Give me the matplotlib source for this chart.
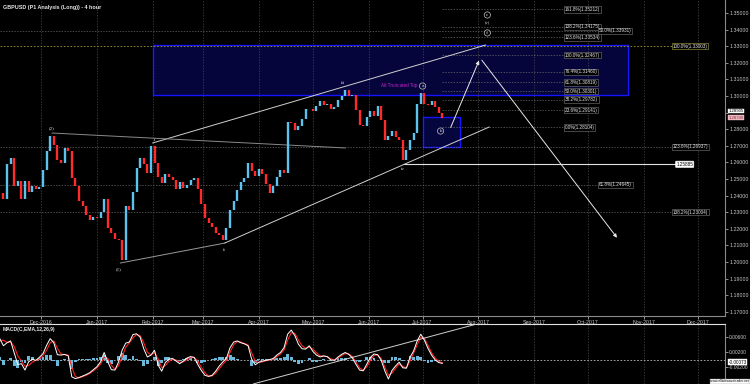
import matplotlib
matplotlib.use('Agg')
import matplotlib.pyplot as plt
import matplotlib.dates as mdates
import matplotlib.transforms as mtransforms
from matplotlib.patches import Rectangle
import numpy as np
import pandas as pd

plt.rcParams['font.family'] = ['Liberation Sans', 'DejaVu Sans']

title = 'GBPUSD (P1 Analysis (Long)) - 4 hour'

# closes every 2 days
dates = pd.date_range('2016-11-08', periods=124, freq='2D')
close = [1.2416, 1.2380, 1.2590, 1.2627, 1.2458, 1.2488, 1.2380, 1.2488, 1.2422, 1.2458,
         1.2440, 1.2452, 1.2554, 1.2669, 1.2759, 1.2705, 1.2614, 1.2596, 1.2687, 1.2669,
         1.2506, 1.2458, 1.2367, 1.2337, 1.2283, 1.2253, 1.2271, 1.2265, 1.2301, 1.2380,
         1.2205, 1.2175, 1.2139, 1.2133, 1.2012, 1.2337, 1.2313, 1.2422, 1.2566, 1.2627,
         1.2590, 1.2536, 1.2699, 1.2596, 1.2512, 1.2476, 1.2530, 1.2512, 1.2494, 1.2440,
         1.2482, 1.2446, 1.2464, 1.2494, 1.2506, 1.2440, 1.2349, 1.2265, 1.2235, 1.2211,
         1.2175, 1.2163, 1.2133, 1.2205, 1.2313, 1.2367, 1.2434, 1.2482, 1.2506, 1.2596,
         1.2548, 1.2518, 1.2560, 1.2530, 1.2470, 1.2416, 1.2458, 1.2512, 1.2554, 1.2536,
         1.2843, 1.2837, 1.2795, 1.2819, 1.2861, 1.2922, 1.2922, 1.2910, 1.2940, 1.2970,
         1.2946, 1.2952, 1.2922, 1.2934, 1.2976, 1.3000, 1.3036, 1.3000, 1.3006, 1.2916,
         1.2825, 1.2819, 1.2874, 1.2910, 1.2880, 1.2940, 1.2855, 1.2735, 1.2759, 1.2789,
         1.2753, 1.2735, 1.2614, 1.2675, 1.2735, 1.2777, 1.2952, 1.3018, 1.2952, 1.2946,
         1.2970, 1.2934, 1.2898, 1.2868]

macd = [0.0056, 0.0037, 0.0045, 0.0050, 0.0018, -0.0013, -0.0011, -0.0028, -0.0006, 0.0001,
        -0.0002, 0.0006, 0.0016, 0.0038, 0.0056, 0.0045, 0.0013, 0.0012, 0.0014, 0.0010,
        -0.0046, -0.0051, -0.0048, -0.0044, -0.0040, -0.0035, -0.0027, -0.0019, -0.0006, 0.0019,
        -0.0006, -0.0027, -0.0028, -0.0006, 0.0025, 0.0044, 0.0047, 0.0067, 0.0069, 0.0060,
        0.0029, 0.0007, 0.0012, 0.0025, -0.0015, -0.0031, -0.0008, 0.0001, 0.0003, -0.0004,
        -0.0011, -0.0004, 0.0004, 0.0008, 0.0006, -0.0013, -0.0029, -0.0042, -0.0045, -0.0042,
        -0.0031, -0.0017, -0.0006, 0.0004, 0.0032, 0.0047, 0.0050, 0.0045, 0.0042, 0.0037,
        0.0001, -0.0014, -0.0007, -0.0004, -0.0002, 0.0000, 0.0003, 0.0012, 0.0019, 0.0032,
        0.0068, 0.0079, 0.0064, 0.0041, 0.0029, 0.0028, 0.0037, 0.0022, 0.0012, 0.0007,
        0.0010, 0.0008, -0.0001, -0.0002, 0.0007, 0.0014, 0.0019, 0.0014, 0.0004, -0.0013,
        -0.0028, -0.0030, -0.0012, 0.0006, 0.0015, 0.0013, -0.0002, -0.0030, -0.0052, -0.0029,
        -0.0017, -0.0007, -0.0022, -0.0023, 0.0006, 0.0023, 0.0050, 0.0068, 0.0052, 0.0030,
        0.0012, -0.0001, -0.0008, -0.0010]

signal = [0.0050, 0.0052, 0.0046, 0.0047, 0.0035, 0.0010, -0.0004, -0.0018, -0.0016, -0.0007,
          -0.0002, 0.0002, 0.0010, 0.0025, 0.0045, 0.0050, 0.0030, 0.0015, 0.0013, 0.0012,
          -0.0020, -0.0045, -0.0049, -0.0046, -0.0042, -0.0037, -0.0030, -0.0022, -0.0012, 0.0006,
          0.0003, -0.0015, -0.0026, -0.0016, 0.0008, 0.0033, 0.0045, 0.0058, 0.0067, 0.0064,
          0.0045, 0.0020, 0.0012, 0.0019, 0.0002, -0.0022, -0.0016, -0.0005, 0.0001, -0.0001,
          -0.0007, -0.0006, 0.0000, 0.0005, 0.0006, -0.0004, -0.0021, -0.0035, -0.0044, -0.0044,
          -0.0036, -0.0024, -0.0012, -0.0002, 0.0020, 0.0040, 0.0048, 0.0047, 0.0043, 0.0039,
          0.0018, -0.0005, -0.0008, -0.0006, -0.0003, -0.0001, 0.0001, 0.0008, 0.0015, 0.0026,
          0.0052, 0.0072, 0.0070, 0.0052, 0.0037, 0.0030, 0.0034, 0.0028, 0.0018, 0.0010,
          0.0009, 0.0008, 0.0002, -0.0001, 0.0004, 0.0011, 0.0016, 0.0015, 0.0008, -0.0007,
          -0.0022, -0.0029, -0.0019, -0.0002, 0.0011, 0.0013, 0.0003, -0.0020, -0.0042, -0.0036,
          -0.0023, -0.0012, -0.0018, -0.0022, -0.0004, 0.0017, 0.0040, 0.0060, 0.0057, 0.0038,
          0.0018, 0.0004, -0.0005, -0.0009]

# fib levels: (label, price, label date)
fib_near = [('161.8%', 1.35212), ('138.2%', 1.34175), ('123.6%', 1.33534), ('100.0%', 1.32467),
            ('76.4%', 1.31460), ('61.8%', 1.30819), ('50.0%', 1.30301), ('38.2%', 1.29782),
            ('23.6%', 1.29141), ('0.0%', 1.28104)]
fib_far = [('50.0%', 1.33931, '2017-10-07'), ('123.6%', 1.26937, '2017-11-17'),
           ('61.8%', 1.24645, '2017-10-07'), ('138.2%', 1.23004, '2017-11-17')]
yellow_level = ('100.0%', 1.33003, '2017-11-17')
hline_level = 1.25885

# trendlines (date, price) pairs
trendlines = [(('2017-02-01', 1.2717), ('2017-08-05', 1.3307), '#d0d0d0'),
              (('2017-03-13', 1.2114), ('2017-08-07', 1.2813), '#d0d0d0'),
              (('2016-12-07', 1.2777), ('2017-05-19', 1.2687), '#8a8a8a'),
              (('2017-01-14', 1.1994), ('2017-03-13', 1.2114), '#9a9a9a')]
macd_trend = (('2017-03-29', -0.0065), ('2017-07-31', 0.0095))

waves = [('(2)', '2016-12-07', 1.2807), ('(1)', '2017-01-13', 1.1958), ('i', '2017-02-02', 1.2735),
         ('ii', '2017-03-13', 1.2072), ('iii', '2017-05-18', 1.3078), ('iv', '2017-06-20', 1.2560)]
circled = [('a', '2017-07-01', 1.3060), ('b', '2017-07-11', 1.2789),
           ('c', '2017-08-06', 1.3488), ('v', '2017-08-06', 1.3380)]

d = mdates.datestr2num
dnum = mdates.date2num(dates.to_pydatetime())

fig = plt.figure(figsize=(7.5, 3.84), dpi=100, facecolor='black')
ax = fig.add_axes([0, 1 - 316 / 384, 725 / 750, 316 / 384], facecolor='black')
axm = fig.add_axes([0, 0, 725 / 750, 60 / 384], facecolor='black')

xlo = d('2016-12-01') - 22.9
xhi = d('2016-12-01') + 380.1
for a in (ax, axm):
    a.set_xlim(xlo, xhi)
    a.xaxis.set_major_locator(mdates.MonthLocator())
    a.grid(axis='x', color='#4a4a4a', ls=(0, (2, 2)), lw=0.5)
    for s in ('left', 'top', 'bottom', 'right'):
        a.spines[s].set_visible(False)
    a.spines['right'].set_visible(True)
    a.spines['right'].set_color('#8a8a8a')
    a.spines['right'].set_linewidth(0.8)
    a.yaxis.tick_right()
    a.tick_params(axis='y', colors='#c8c8c8', labelsize=3.8, length=2, width=0.5, pad=1)


def price_fmt(v, pos):
    # the 1.29 level sits under the live price tag
    if abs(v - 1.29) < 1e-6:
        return ''
    return '%.5f' % v


ax.set_ylim(1.16747, 1.35783)
ax.set_yticks(np.arange(1.17, 1.3501, 0.01))
ax.yaxis.set_major_formatter(matplotlib.ticker.FuncFormatter(price_fmt))
ax.spines['bottom'].set_visible(True)
ax.spines['bottom'].set_color('#8a8a8a')
ax.spines['bottom'].set_linewidth(0.8)
ax.xaxis.set_major_formatter(mdates.DateFormatter('%b-%Y'))
ax.tick_params(axis='x', colors='#c8c8c8', labelsize=3.8, length=2, width=0.5, pad=1)

# blue boxes
ax.add_patch(Rectangle((d('2017-02-01'), 1.3005), d('2017-10-23') - d('2017-02-01'), 1.3307 - 1.3005,
                       fc='#05053c', ec='#1414ff', lw=1.0, zorder=1))
ax.add_patch(Rectangle((d('2017-07-01'), 1.2693), d('2017-07-22') - d('2017-07-01'), 1.2873 - 1.2693,
                       fc='#06063f', ec='#1414ff', lw=1.0, zorder=1))

lbl = dict(fontsize=3.3, color='#e6e6e6', ha='left', va='center', zorder=6)
for name, p in fib_near:
    ax.hlines(p, d('2017-07-12'), d('2017-09-18'), color='#6a6a6a', ls=(0, (2, 2)), lw=0.5, zorder=2)
    ax.text(d('2017-09-18'), p, '%s(%.5f)' % (name, p),
            bbox=dict(boxstyle='square,pad=0.15', fc='black', ec='#7a7a7a', lw=0.4), **lbl)
for name, p, ld in fib_far:
    ax.hlines(p, xlo, d(ld), color='#6a6a6a', ls=(0, (2, 2)), lw=0.5, zorder=2)
    ax.text(d(ld), p, '%s(%.5f)' % (name, p),
            bbox=dict(boxstyle='square,pad=0.15', fc='black', ec='#7a7a7a', lw=0.4), **lbl)
name, p, ld = yellow_level
ax.hlines(p, xlo, d(ld), color='#9a9a30', ls=(0, (2, 2)), lw=0.6, zorder=2)
ax.text(d(ld), p, '%s(%.5f)' % (name, p),
        bbox=dict(boxstyle='square,pad=0.15', fc='black', ec='#a8a840', lw=0.4), **lbl)

ax.hlines(hline_level, d('2017-06-20'), d('2017-11-19'), color='#e0e0e0', lw=0.8, zorder=3)
ax.text(d('2017-11-19'), hline_level, '%.5f' % hline_level, fontsize=3.3, color='black', ha='left',
        va='center', bbox=dict(boxstyle='round,pad=0.15', fc='white', ec='white', lw=0.4), zorder=6)

for (d1, p1), (d2, p2), col in trendlines:
    ax.plot([d(d1), d(d2)], [p1, p2], color=col, lw=0.7, zorder=3)

# price bars
for k in range(1, len(close)):
    col = '#5cc2ee' if close[k] >= close[k - 1] else '#ff2a2a'
    ax.vlines(dnum[k], close[k - 1], close[k], color=col, lw=1.7, zorder=4)

# projected path
ax.annotate('', xy=(d('2017-08-02'), 1.3229), xytext=(d('2017-07-16'), 1.2795),
            arrowprops=dict(arrowstyle='-|>', color='#e8e8e8', lw=0.7, mutation_scale=5), zorder=5)
ax.annotate('', xy=(d('2017-10-18'), 1.2133), xytext=(d('2017-08-02'), 1.3229),
            arrowprops=dict(arrowstyle='-|>', color='#e8e8e8', lw=0.7, mutation_scale=5), zorder=5)

for t, dd, p in waves:
    ax.text(d(dd), p, t, fontsize=3.6, color='#e0e0e0', ha='center', va='center',
            family='Liberation Serif', zorder=6)
for t, dd, p in circled:
    ax.text(d(dd), p, t, fontsize=3.2, color='#d8d8d8', ha='center', va='center', zorder=6,
            bbox=dict(boxstyle='circle,pad=0.25', fc='none', ec='#c8c8c8', lw=0.5))
ax.text(d('2017-08-06'), 1.3440, '(v)', fontsize=3.2, color='#d8d8d8', ha='center', va='center',
        family='Liberation Serif', zorder=6)
ax.text(d('2017-06-28'), 1.3066, 'Alt Truncated Top', fontsize=3.3, color='#d020d0', ha='right',
        va='center', zorder=6)

# current price tags on the axis
tr = mtransforms.blended_transform_factory(ax.transAxes, ax.transData)
ax.text(1.005, 1.29080, '1.28905', transform=tr, fontsize=3.1, color='black', ha='left', va='center',
        bbox=dict(boxstyle='square,pad=0.05', fc='white', ec='white', lw=0.3), zorder=7, clip_on=False)
ax.text(1.005, 1.28700, '1.28700', transform=tr, fontsize=3.1, color='#803040', ha='left', va='center',
        bbox=dict(boxstyle='square,pad=0.05', fc='#f0b8c0', ec='#f0b8c0', lw=0.3), zorder=6, clip_on=False)

fig.text(3 / 750, 1 - 7 / 384, title, fontsize=3.9, fontweight='bold', color='#e8e8e8', va='center')

# MACD panel
hist = np.array(macd) - np.array(signal)
axm.set_ylim(-0.00653, 0.00952)
axm.set_yticks([0.006, 0.002, -0.002])
axm.yaxis.set_major_formatter(matplotlib.ticker.FormatStrFormatter('%.5f'))
axm.tick_params(axis='y', labelsize=3.5)
axm.tick_params(axis='x', labelbottom=False, length=0)
axm.spines['top'].set_visible(True)
axm.spines['top'].set_color('#e0e0e0')
axm.spines['top'].set_linewidth(0.8)
axm.bar(dnum, hist, width=1.6, color='#6cb8da', zorder=2)
axm.axhline(0, color='#c0c0c0', ls=(0, (2, 2)), lw=0.6, zorder=1)
axm.plot(dnum, signal, color='#ff2020', lw=0.8, zorder=3)
axm.plot(dnum, macd, color='white', lw=0.7, zorder=4)
axm.plot([d(macd_trend[0][0]), d(macd_trend[1][0])], [macd_trend[0][1], macd_trend[1][1]],
         color='#d0d0d0', lw=0.7, zorder=3)
axm.text(3 / 725, 0.9, 'MACD(C,EMA,12,26,9)', transform=axm.transAxes, fontsize=3.6,
         fontweight='bold', color='#e8e8e8', va='center')
trm = mtransforms.blended_transform_factory(axm.transAxes, axm.transData)
axm.text(1.005, -0.00073, '-0.00073', transform=trm, fontsize=3.4,
         color='black', ha='left', va='center', zorder=7, clip_on=False,
         bbox=dict(boxstyle='square,pad=0.1', fc='white', ec='white', lw=0.3))

fig.text(0.999, 0.002, 'www.elliottwavetrader.net', fontsize=2.4, color='black', ha='right', va='bottom',
         bbox=dict(boxstyle='square,pad=0.1', fc='white', ec='#808080', lw=0.3))

fig.savefig('out.png', dpi=100, facecolor='black')
